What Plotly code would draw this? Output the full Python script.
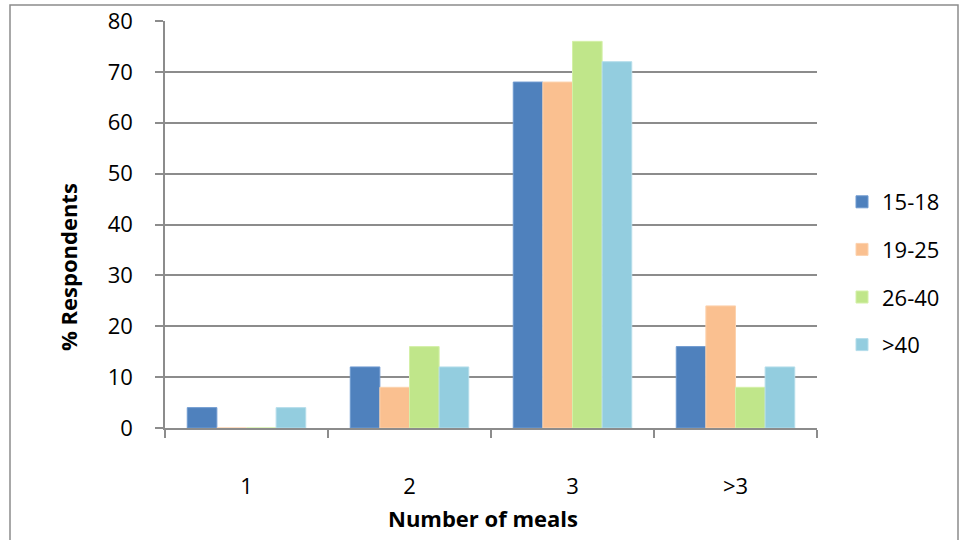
import plotly.graph_objects as go

categories = ["1", "2", "3", ">3"]
series_names = ["15-18", "19-25", "26-40", ">40"]
values_15_18 = [4, 12, 68, 16]
values_19_25 = [0, 8, 68, 24]
values_26_40 = [0, 16, 76, 8]
values_over40 = [4, 12, 72, 12]
y_ticks = [0, 10, 20, 30, 40, 50, 60, 70, 80]
x_title = "Number of meals"
y_title = "% Respondents"

series_values = [values_15_18, values_19_25, values_26_40, values_over40]
colors = ["#4F81BD", "#FAC090", "#C0E68A", "#93CDDF"]
edge_colors = ["#6F9AD0", "#FCD2AE", "#D4F0A8", "#B4DDEA"]

xpos = list(range(len(categories)))
bounds = [i - 0.5 for i in range(len(categories) + 1)]

FONT = "Open Sans, Lato, sans-serif"
FS = 22
FT = 22

L, T, R, B = 165, 21, 142, 112
PW, PH = 959 - L - R, 540 - T - B

fig = go.Figure()
for i, (name, vals) in enumerate(zip(series_names, series_values)):
    fig.add_trace(go.Bar(
        x=xpos, y=vals, name=name,
        marker=dict(color=colors[i], line=dict(color=edge_colors[i], width=1)),
        legendgroup=name,
    ))

grid = "#8C8C8C"
fig.update_layout(
    width=959, height=540,
    margin=dict(l=L, r=R, t=T, b=B, autoexpand=False),
    paper_bgcolor="white", plot_bgcolor="white",
    barmode="group", bargap=0.273, bargroupgap=0,
    font=dict(family=FONT, size=FS, color="#000000"),
    showlegend=True,
    legend=dict(x=(842 - L) / PW, y=(428 - 273.5) / PH, xanchor="left", yanchor="middle",
                font=dict(size=FS), tracegroupgap=16,
                bgcolor="rgba(0,0,0,0)"),
    xaxis=dict(
        range=[-0.5, len(categories) - 0.5],
        tickvals=xpos, ticktext=categories, ticks="",
        ticklabelstandoff=38,
        showline=True, linecolor=grid, linewidth=1.5,
        showgrid=False, zeroline=False,
        minor=dict(tickvals=bounds, ticks="outside", ticklen=8,
                   tickcolor=grid, tickwidth=1.5, showgrid=False),
        fixedrange=True,
    ),
    yaxis=dict(
        range=[0, 80], tickvals=y_ticks,
        ticks="outside", ticklen=8, tickcolor=grid, tickwidth=1.5,
        ticklabelstandoff=18, ticklabeloverflow="allow",
        showline=True, linecolor=grid, linewidth=1.5,
        showgrid=True, gridcolor=grid, gridwidth=1.5,
        zeroline=False,
        fixedrange=True,
    ),
    annotations=[
        dict(text="<b>" + x_title + "</b>", xref="paper", yref="paper",
             x=(483 - L) / PW, y=(428 - 518) / PH, xanchor="center", yanchor="middle",
             showarrow=False, font=dict(size=FT)),
        dict(text="<b>" + y_title + "</b>", xref="paper", yref="paper",
             x=(68 - L) / PW, y=(428 - 267) / PH, xanchor="center", yanchor="middle",
             textangle=-90, showarrow=False, font=dict(size=FT)),
    ],
    shapes=[dict(type="rect", xref="paper", yref="paper",
                 x0=(10 - L) / PW, x1=(958 - L) / PW,
                 y0=-0.5, y1=(428 - 5) / PH,
                 line=dict(color=grid, width=1.5), fillcolor="rgba(0,0,0,0)",
                 layer="below")],
)

fig.write_html("out.html", config={"displayModeBar": False},
               post_script="document.body.style.margin='0';document.body.style.padding='0';")
